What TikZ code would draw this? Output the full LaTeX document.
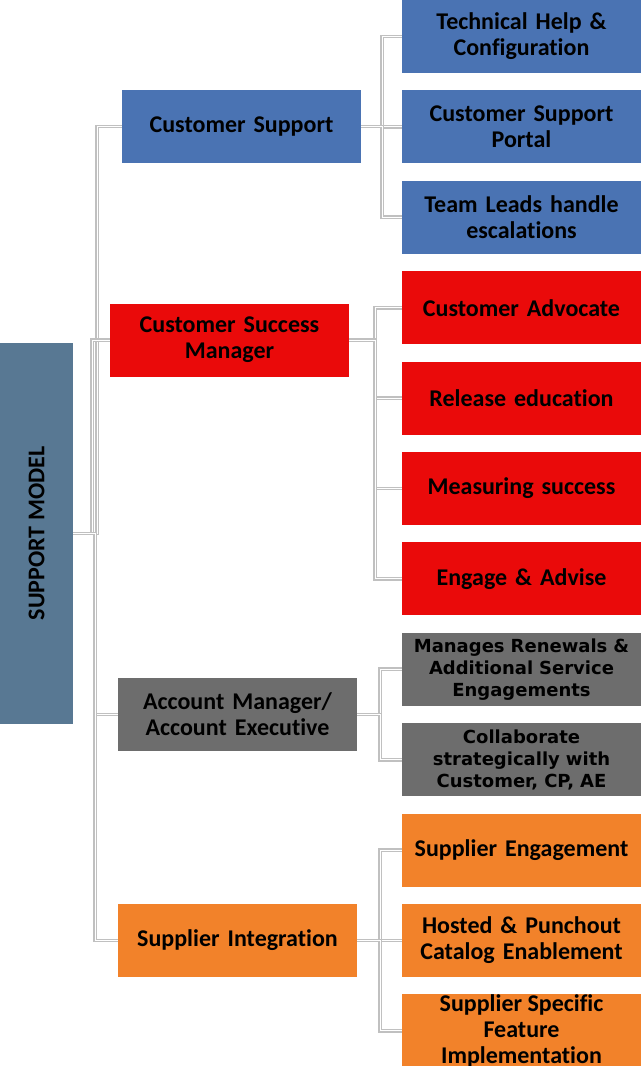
\documentclass[tikz,border=0pt]{standalone}
\usepackage{fontspec}
\setmainfont{Carlito}[Ligatures=NoCommon]
\newfontfamily\widefont{DejaVu Sans}
\usetikzlibrary{positioning}
\definecolor{rootblue}{HTML}{587893}
\definecolor{suppblue}{HTML}{4A73B3}
\definecolor{succred}{HTML}{EA0A0A}
\definecolor{accgray}{HTML}{6D6D6D}
\definecolor{integorange}{HTML}{F2822A}
\definecolor{linkgray}{HTML}{C0C0C0}

\begin{document}
\begin{tikzpicture}[
  x=0.5pt, y=-0.5pt,
  font=\bfseries\fontsize{12}{13}\selectfont,
  every node/.style={align=center},
  box/.style={rectangle, inner sep=2pt, outer sep=0pt, minimum width=119.5pt,
              minimum height=36.5pt, text width=114pt},
  rootbox/.style={rectangle, fill=rootblue, inner sep=0pt, outer sep=0pt,
                  minimum width=36.5pt, minimum height=190.5pt},
  sub/.style={box, below=8.7pt of #1},
  small/.style={font=\widefont\bfseries\fontsize{9}{11}\selectfont},
  link/.style={draw=linkgray, line width=0.7pt, double=white, double distance=0.5pt},
]
\useasboundingbox (0,0) rectangle (641,1066);

% ---------- root and first level ----------
\node[rootbox] (root) at (36.5,533.5) {\rotatebox{90}{SUPPORT MODEL}};

\node[box, fill=suppblue] (cs) at (241.5,126.5) {Customer Support};
\node[box, fill=succred] (csm) at (229.5,340) {Customer Success\\ Manager};
\node[box, fill=accgray] (am) at (237.5,714.5) {Account Manager/\\ Account Executive};
\node[box, fill=integorange] (si) at (237.5,940.5) {Supplier Integration};

% ---------- second level (one column, stacked) ----------
\node[box, fill=suppblue] (tech) at (521.5,36.5) {Technical Help \&\\ Configuration};
\node[sub=tech, fill=suppblue] (portal) {Customer Support\\ Portal};
\node[sub=portal, fill=suppblue] (leads) {Team Leads handle\\ escalations};

\node[sub=leads, fill=succred] (advocate) {Customer Advocate};
\node[sub=advocate, fill=succred] (release) {Release education};
\node[sub=release, fill=succred] (measure) {Measuring success};
\node[sub=measure, fill=succred] (engage) {Engage \& Advise};

\node[sub=engage, fill=accgray, small] (renew) {Manages Renewals \&\\ Additional Service\\ Engagements};
\node[sub=renew, fill=accgray, small] (collab) {Collaborate\\ strategically with\\ Customer,\ CP,\ AE};

\node[sub=collab, fill=integorange] (seng) {Supplier Engagement};
\node[sub=seng, fill=integorange] (hosted) {Hosted \& Punchout\\ Catalog Enablement};
\node[sub=hosted, fill=integorange,
      label={[align=center]center:Supplier Specific\\ Feature\\ Implementation}] (specific) {};

% ---------- connectors ----------
\draw[link] (root.east) -- ++(24,0) |- (cs.west);
\draw[link] (root.east) -- ++(19,0) |- (csm.west);
\foreach \c in {am,si} \draw[link] (root.east) -- ++(22,0) |- (\c.west);

\foreach \c in {tech,portal,leads} \draw[link] (cs.east) -- ++(21,0) |- (\c.west);
\foreach \c in {advocate,release,measure,engage} \draw[link] (csm.east) -- ++(26,0) |- (\c.west);
\foreach \c in {renew,collab} \draw[link] (am.east) -- ++(23,0) |- (\c.west);
\foreach \c in {seng,hosted,specific} \draw[link] (si.east) -- ++(23,0) |- (\c.west);

\end{tikzpicture}
\end{document}
